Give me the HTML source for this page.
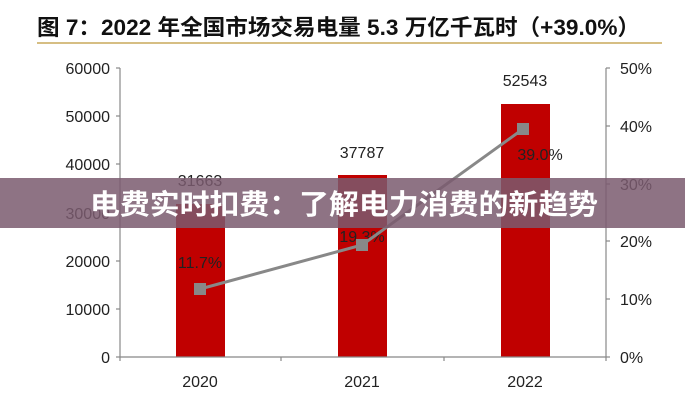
<!DOCTYPE html>
<html><head><meta charset="utf-8"><style>
body{margin:0;background:#fff;}
svg text{font-family:"Liberation Sans","Noto Sans CJK SC",sans-serif;}
</style></head><body>
<svg width="685" height="400" viewBox="0 0 685 400" xmlns="http://www.w3.org/2000/svg">
<rect width="685" height="400" fill="#fff"/>
<text x="37" y="35" font-size="22" font-weight="bold" fill="#111" textLength="603" lengthAdjust="spacingAndGlyphs">图 7：2022 年全国市场交易电量 5.3 万亿千瓦时（+39.0%）</text>
<line x1="37" y1="43" x2="662" y2="43" stroke="#c9a85a" stroke-width="1.5"/>
<rect x="176" y="204" width="49" height="153" fill="#c00000"/>
<rect x="338" y="175" width="49" height="182" fill="#c00000"/>
<rect x="501" y="104" width="49" height="253" fill="#c00000"/>
<g stroke="#888" stroke-width="1.2">
<line x1="120" y1="68" x2="120" y2="357"/>
<line x1="606" y1="68" x2="606" y2="357"/>
<line x1="120" y1="357" x2="606" y2="357"/>
<line x1="116" y1="68" x2="120" y2="68"/><line x1="116" y1="116" x2="120" y2="116"/><line x1="116" y1="164" x2="120" y2="164"/><line x1="116" y1="213" x2="120" y2="213"/><line x1="116" y1="261" x2="120" y2="261"/><line x1="116" y1="309" x2="120" y2="309"/><line x1="116" y1="357" x2="120" y2="357"/>
<line x1="606" y1="68" x2="610" y2="68"/><line x1="606" y1="126" x2="610" y2="126"/><line x1="606" y1="184" x2="610" y2="184"/><line x1="606" y1="241" x2="610" y2="241"/><line x1="606" y1="299" x2="610" y2="299"/><line x1="606" y1="357" x2="610" y2="357"/>
<line x1="281" y1="357" x2="281" y2="361"/><line x1="444" y1="357" x2="444" y2="361"/><line x1="120" y1="357" x2="120" y2="361"/><line x1="606" y1="357" x2="606" y2="361"/>
</g>
<g font-size="16" fill="#222" text-anchor="end">
<text x="110" y="74">60000</text><text x="110" y="122">50000</text><text x="110" y="170">40000</text><text x="110" y="219">30000</text><text x="110" y="267">20000</text><text x="110" y="315">10000</text><text x="110" y="363">0</text>
</g>
<g font-size="16" fill="#222">
<text x="620" y="74">50%</text><text x="620" y="132">40%</text><text x="620" y="190">30%</text><text x="620" y="247">20%</text><text x="620" y="305">10%</text><text x="620" y="363">0%</text>
</g>
<g font-size="16" fill="#222" text-anchor="middle">
<text x="200" y="387">2020</text><text x="362" y="387">2021</text><text x="525" y="387">2022</text>
<text x="200" y="186">31663</text><text x="362" y="158">37787</text><text x="525" y="86">52543</text>
<text x="200" y="268">11.7%</text><text x="362" y="242">19.3%</text><text x="540" y="160">39.0%</text>
</g>
<polyline points="200,289 362,245 523,129" fill="none" stroke="#888" stroke-width="3"/>
<rect x="194" y="283" width="12" height="12" fill="#888"/>
<rect x="356" y="239" width="12" height="12" fill="#888"/>
<rect x="517" y="123" width="12" height="12" fill="#888"/>
<rect x="0" y="178" width="685" height="50" fill="#7a5a6e" fill-opacity="0.85"/>
<text x="90" y="214" font-size="28" font-weight="bold" fill="#fff" textLength="508" lengthAdjust="spacingAndGlyphs">电费实时扣费：了解电力消费的新趋势</text>
</svg>
</body></html>
